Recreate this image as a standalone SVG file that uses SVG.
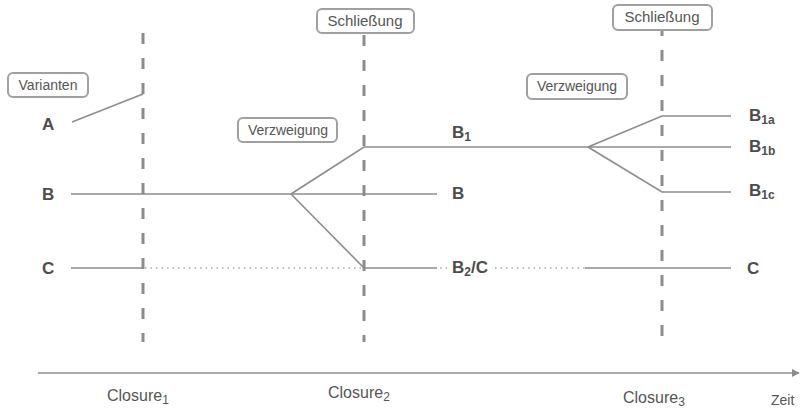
<svg xmlns="http://www.w3.org/2000/svg" width="800" height="409" viewBox="0 0 800 409">
<defs>
<style>
.ln{stroke:#8c8c8c;stroke-width:1.6;fill:none}
.dash{stroke:#8c8c8c;stroke-width:3;stroke-dasharray:11 14;fill:none}
.dot{stroke:#a8a8a8;stroke-width:1.5;stroke-dasharray:1.5 4;fill:none}
.box{fill:#fff;stroke:#a0a0a0;stroke-width:2}
.bt{font-family:"Liberation Sans",Arial,sans-serif;font-size:14px;fill:#555;text-anchor:middle}
.lab{font-family:"Liberation Sans",Arial,sans-serif;font-size:17px;font-weight:bold;fill:#4d4d4d}
.cl{font-family:"Liberation Sans",Arial,sans-serif;font-size:16px;fill:#555}
.sub{font-size:12px}
</style>
<marker id="arr" viewBox="0 0 10 10" refX="9" refY="5" markerWidth="8" markerHeight="8" markerUnits="userSpaceOnUse" orient="auto">
<path d="M0,0 L10,5 L0,10 z" fill="#8c8c8c"/>
</marker>
</defs>
<rect width="800" height="409" fill="#fff"/>
<g id="connectors">
<line class="dash" x1="143" y1="33" x2="143" y2="342"/>
<line class="dash" x1="364" y1="35" x2="364" y2="342"/>
<line class="dash" x1="662" y1="25" x2="662" y2="338"/>
<line class="ln" x1="72" y1="122" x2="143" y2="94"/>
<line class="ln" x1="71" y1="194" x2="437" y2="194"/>
<polyline class="ln" points="291,194 364,147 588,147"/>
<polyline class="ln" points="291,194 364,268 437,268"/>
<polyline class="ln" points="71,268 143,268 143,262"/>
<line class="dot" x1="145" y1="268" x2="362" y2="268"/>
<line class="dot" x1="440" y1="268" x2="450" y2="268"/>
<line class="dot" x1="495" y1="268" x2="585" y2="268"/>
<line class="ln" x1="585" y1="268" x2="731" y2="268"/>
<polyline class="ln" points="731,116 662,116 588,147 731,147"/>
<polyline class="ln" points="588,147 662,192 731,192"/>
<line class="ln" x1="38" y1="373" x2="799" y2="373" marker-end="url(#arr)"/>
</g>
<g id="varianten"><rect class="box" x="8" y="73" width="80" height="24" rx="5"/><text class="bt" x="48" y="90">Varianten</text></g>
<g id="verzweigung1"><rect class="box" x="238" y="118" width="99" height="24" rx="5"/><text class="bt" x="288" y="135">Verzweigung</text></g>
<g id="schliessung2"><rect class="box" x="317" y="9" width="97" height="24" rx="5"/><text class="bt" x="365" y="26" style="font-size:15px">Schließung</text></g>
<g id="verzweigung2"><rect class="box" x="527" y="74" width="100" height="25" rx="5"/><text class="bt" x="577" y="91">Verzweigung</text></g>
<g id="schliessung3"><rect class="box" x="613" y="5" width="99" height="25" rx="5"/><text class="bt" x="662" y="22" style="font-size:15px">Schließung</text></g>
<g id="labels">
<text class="lab" x="42" y="130">A</text>
<text class="lab" x="42" y="200">B</text>
<text class="lab" x="42" y="274">C</text>
<text class="lab" x="452" y="138">B<tspan class="sub" dy="3">1</tspan></text>
<text class="lab" x="452" y="199">B</text>
<text class="lab" x="452" y="273">B<tspan class="sub" dy="3">2</tspan><tspan dy="-3">/C</tspan></text>
<text class="lab" x="749" y="121">B<tspan class="sub" dy="3">1a</tspan></text>
<text class="lab" x="749" y="152">B<tspan class="sub" dy="3">1b</tspan></text>
<text class="lab" x="749" y="196">B<tspan class="sub" dy="3">1c</tspan></text>
<text class="lab" x="747" y="274">C</text>
</g>
<g id="axis-labels">
<text class="cl" x="107" y="401">Closure<tspan class="sub" dy="3">1</tspan></text>
<text class="cl" x="328" y="398">Closure<tspan class="sub" dy="3">2</tspan></text>
<text class="cl" x="623" y="403">Closure<tspan class="sub" dy="3">3</tspan></text>
<text class="cl" x="771" y="405" style="font-size:14px">Zeit</text>
</g>
</svg>
